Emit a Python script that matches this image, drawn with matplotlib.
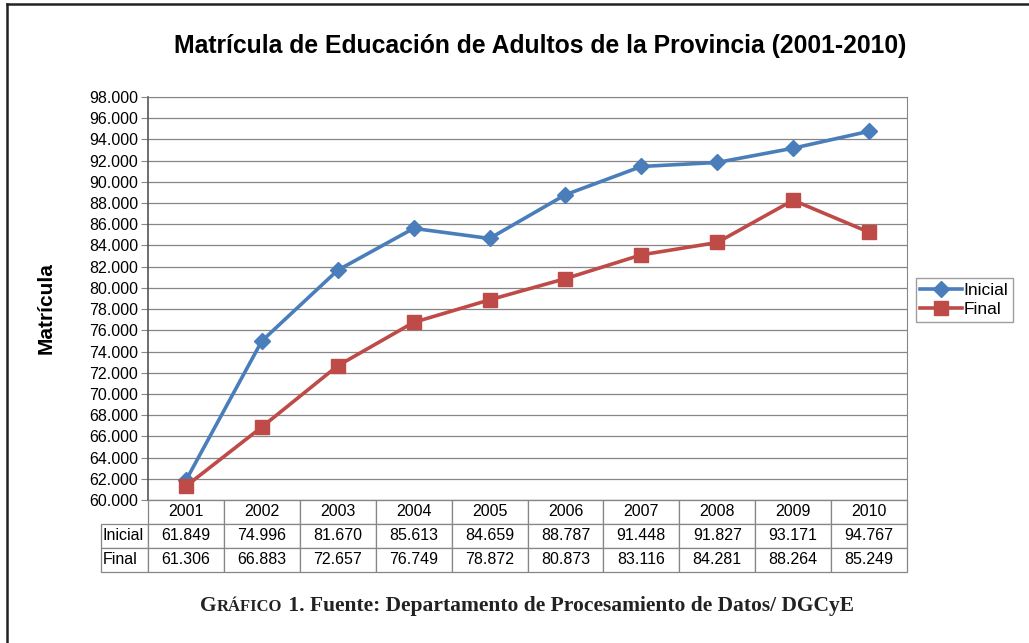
"""
Matrícula de Educación de Adultos de la Provincia (2001-2010)
"""

import matplotlib
matplotlib.use("Agg")
import matplotlib.pyplot as plt
from matplotlib.lines import Line2D
from matplotlib.ticker import FuncFormatter
from matplotlib.offsetbox import TextArea, HPacker, AnchoredOffsetbox

years = ["2001", "2002", "2003", "2004", "2005", "2006", "2007", "2008", "2009", "2010"]
inicial = [61849, 74996, 81670, 85613, 84659, 88787, 91448, 91827, 93171, 94767]
final = [61306, 66883, 72657, 76749, 78872, 80873, 83116, 84281, 88264, 85249]

BLUE = "#4A7EBB"
RED = "#BE4B48"
GRID = "#868686"

plt.rcParams["font.family"] = ["Liberation Sans", "DejaVu Sans"]


def miles(v, _pos=None):
    """Format with dot as thousands separator: 98000 -> 98.000"""
    return f"{int(round(v)):,}".replace(",", ".")


fig = plt.figure(figsize=(10.29, 6.43), dpi=100)
ax = fig.add_axes([148 / 1029, 1 - 500 / 643, 759 / 1029, 403 / 643])

x = list(range(len(years)))
ax.plot(x, inicial, color=BLUE, lw=2.6, marker="D", ms=8, label="Inicial")
ax.plot(x, final, color=RED, lw=2.6, marker="s", ms=10, label="Final")

ax.set_xlim(-0.5, len(years) - 0.5)
ax.set_ylim(60000, 98000)
ax.set_yticks(range(60000, 98001, 2000))
ax.yaxis.set_major_formatter(FuncFormatter(miles))
ax.tick_params(axis="y", labelsize=11.5, length=5, color=GRID, pad=2)
ax.set_xticks([])
ax.grid(axis="y", color=GRID, lw=0.9)
ax.set_axisbelow(True)
for side in ["top", "right", "bottom"]:
    ax.spines[side].set_color(GRID)
ax.spines["left"].set_color("#555555")
ax.spines["left"].set_linewidth(1.2)

# data table under the axes
rows = [[""] + years,
        ["Inicial"] + [miles(v) for v in inicial],
        ["Final"] + [miles(v) for v in final]]
first_w = 47
col_w = 759 / len(years)
total = first_w + col_w * len(years)
widths = [first_w / total] + [col_w / total] * len(years)
tbl = ax.table(cellText=rows, colWidths=widths, cellLoc="center",
               bbox=[-first_w / 759, -72 / 403, total / 759, 72 / 403])
tbl.auto_set_font_size(False)
tbl.set_fontsize(11.5)
for (r, c), cell in tbl.get_celld().items():
    cell.set_edgecolor(GRID)
    cell.set_linewidth(0.9)
    if c == 0:
        cell.get_text().set_ha("left")
        cell.PAD = 0.03
    if r == 0 and c == 0:
        cell.visible_edges = ""

ax.legend(loc="center left", bbox_to_anchor=(916 / 1029, 1 - 300 / 643),
          bbox_transform=fig.transFigure, fontsize=12.5, frameon=True,
          fancybox=False, edgecolor=GRID, handlelength=2.4,
          handletextpad=0.1, borderpad=0.25, labelspacing=0.25,
          borderaxespad=0)

fig.text(540 / 1029, 1 - 46 / 643,
         "Matrícula de Educación de Adultos de la Provincia (2001-2010)",
         ha="center", va="center", fontsize=17.8, fontweight="bold")
fig.text(46 / 1029, 1 - 308 / 643, "Matrícula", rotation=90,
         ha="center", va="center", fontsize=15, fontweight="bold")

# caption with small caps "GRÁFICO"
serif = dict(family="Liberation Serif", weight="bold", color="#222222")
parts = [TextArea("G", textprops=dict(size=15.5, **serif)),
         TextArea("RÁFICO", textprops=dict(size=12, **serif)),
         TextArea(" 1. Fuente: Departamento de Procesamiento de Datos/ DGCyE",
                  textprops=dict(size=15.5, **serif))]
caption = AnchoredOffsetbox(loc="center", child=HPacker(children=parts, align="baseline", pad=0, sep=0),
                            frameon=False, bbox_to_anchor=(527 / 1029, 1 - 606 / 643),
                            bbox_transform=fig.transFigure, pad=0, borderpad=0)
fig.add_artist(caption)

# outer frame (left and top edges visible)
fig.add_artist(Line2D([7 / 1029, 7 / 1029], [0, 1 - 4 / 643], color="#222222", lw=1.8,
                      transform=fig.transFigure))
fig.add_artist(Line2D([7 / 1029, 1], [1 - 4 / 643, 1 - 4 / 643], color="#222222", lw=1.8,
                      transform=fig.transFigure))

fig.savefig("out.png", dpi=100)
